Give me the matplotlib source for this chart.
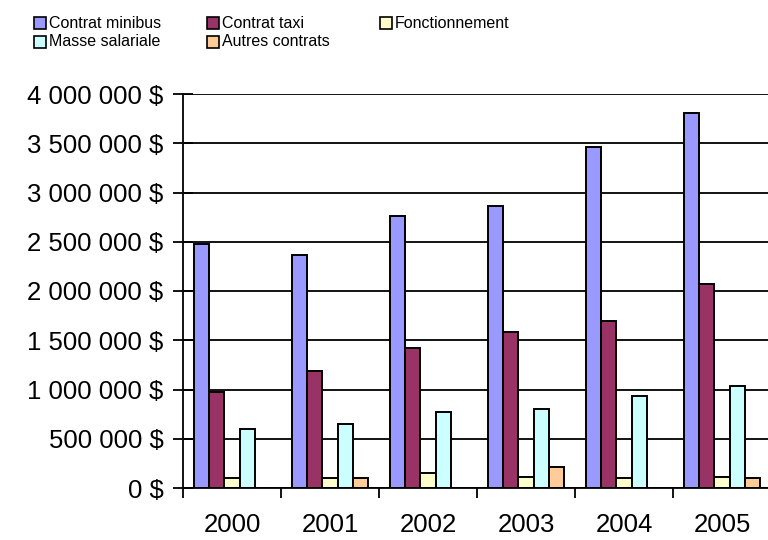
import matplotlib.pyplot as plt
from matplotlib.patches import Rectangle
from matplotlib.ticker import FuncFormatter, MultipleLocator
import numpy as np

# --- data ---
years = ["2000", "2001", "2002", "2003", "2004", "2005"]
series_names = ["Contrat minibus", "Contrat taxi", "Fonctionnement",
                "Masse salariale", "Autres contrats"]
minibus = [2480000, 2370000, 2760000, 2860000, 3460000, 3810000]
taxi = [975000, 1190000, 1420000, 1580000, 1700000, 2070000]
fonctionnement = [100000, 100000, 155000, 115000, 100000, 115000]
masse = [600000, 650000, 770000, 800000, 935000, 1035000]
autres = [0, 100000, 0, 215000, 0, 100000]

colors = ["#9999FF", "#993366", "#FFFFCC", "#CCFFFF", "#FFCC99"]

plt.rcParams["font.family"] = ["Liberation Sans", "DejaVu Sans"]

fig = plt.figure(figsize=(7.68, 5.4), dpi=100)
ax = fig.add_axes([183 / 768, 1 - 488 / 540, 588 / 768, 394 / 540])

all_series = [minibus, taxi, fonctionnement, masse, autres]
x = np.arange(len(years))
bar_w = 0.155
for j, (vals, col) in enumerate(zip(all_series, colors)):
    ax.bar(x + 0.5 + (j - 2) * bar_w, vals, width=bar_w, color=col,
           edgecolor="black", linewidth=1.4, zorder=3)

ax.set_xlim(0, len(years))
ax.set_ylim(0, 4000000)
ax.yaxis.set_major_locator(MultipleLocator(500000))
ax.yaxis.set_major_formatter(
    FuncFormatter(lambda v, p: f"{int(v):,} $".replace(",", " ")))
ax.grid(axis="y", color="black", linewidth=1.3, zorder=0)

# category labels centred, tick marks at boundaries
ax.set_xticks(x + 0.5)
ax.set_xticklabels(years)
ax.set_xticks(np.arange(len(years) + 1), minor=True)
ax.tick_params(axis="x", which="major", length=0, labelsize=18.5, pad=18)
ax.tick_params(axis="x", which="minor", length=7, width=1.3, direction="out")
ax.tick_params(axis="y", length=14, width=1.3, direction="inout",
               labelsize=18.5, pad=7)

for s in ["top", "right"]:
    ax.spines[s].set_visible(False)
for s in ["left", "bottom"]:
    ax.spines[s].set_linewidth(1.3)
    ax.spines[s].set_zorder(4)

# --- legend, laid out like the original (3 columns, 2 rows) ---
col_x = [34, 207, 380]
row_y = [23, 42]
for k, (name, col) in enumerate(zip(series_names, colors)):
    r, c = divmod(k, 3)
    px, py = col_x[c], row_y[r]
    fig.patches.append(Rectangle((px / 768, 1 - (py + 6) / 540), 12 / 768,
                                 12 / 540, transform=fig.transFigure,
                                 facecolor=col, edgecolor="black",
                                 linewidth=1.2))
    fig.text((px + 15) / 768, 1 - py / 540, name, fontsize=11.5,
             va="center", ha="left")

fig.savefig("out.png", dpi=100)
